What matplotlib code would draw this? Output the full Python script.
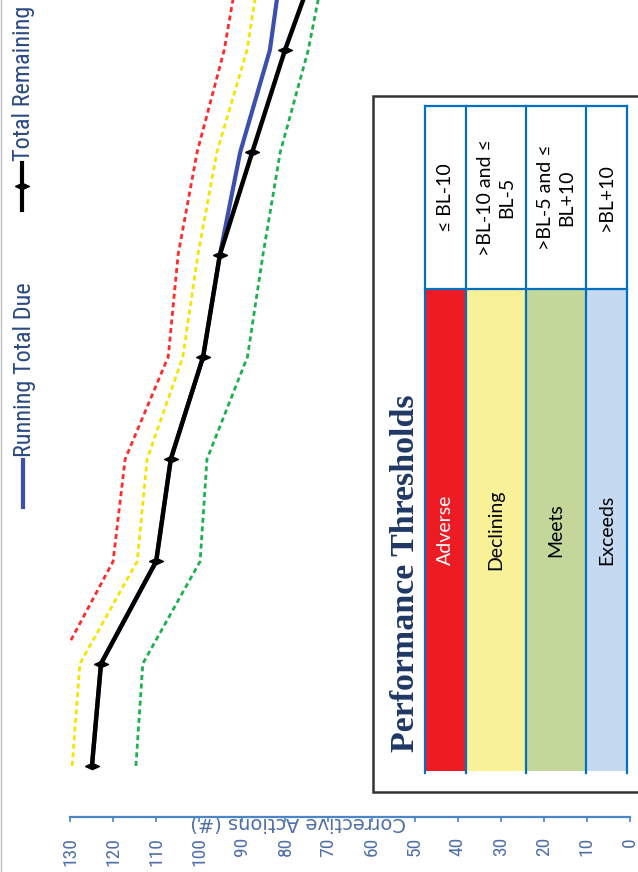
import numpy as np
import matplotlib
matplotlib.use('Agg')
import matplotlib.pyplot as plt
from matplotlib.patches import Rectangle
from matplotlib.lines import Line2D

# time steps (chart is turned on its side: time runs upward)
periods = np.arange(9)
total_remaining = [124.9, 122.8, 110.0, 106.6, 99.1, 95.2, 87.7, 80.1, 71.5]
running_total_due = [124.9, 122.8, 110.0, 106.6, 99.1, 95.2, 90.5, 83.6, 80.3]
adverse_line = [134.5, 132.7, 120.0, 117.2, 107.2, 104.9, 100.5, 94.2, 90.1]
declining_line = [129.5, 127.7, 114.4, 112.1, 103.8, 100.3, 95.9, 88.9, 85.2]
exceeds_line = [114.7, 113.1, 99.8, 98.2, 88.8, 85.2, 81.2, 74.7, 70.0]

value_ticks = list(range(0, 131, 10))

threshold_names = ['Adverse', 'Declining', 'Meets', 'Exceeds']
threshold_rules = ['≤ BL-10', '>BL-10 and ≤\nBL-5', '>BL-5 and ≤\nBL+10', '>BL+10']
threshold_colors = ['#ED1C24', '#F9F197', '#C4D79B', '#C5D9F1']
threshold_text = ['white', 'black', 'black', 'black']

axis_blue = '#4A86C8'
tick_col = '#4F6FA8'
legend_col = '#2B4A85'
narrow = ['Roboto Condensed', 'DejaVu Sans']
# flat diamond like the excel marker seen sideways
flat_diamond = [(-1, 0), (0, 0.45), (1, 0), (0, -0.45), (-1, 0)]
dots = (0, (1.8, 1.3))

W, H = 638, 872
fig = plt.figure(figsize=(W / 100, H / 100), dpi=100)

ax = fig.add_axes([70 / W, 1 - 817 / H, 560 / W, 817 / H])
ax.plot(exceeds_line, periods, color='#1DB050', lw=2.0, ls=dots, zorder=2)
ax.plot(declining_line, periods, color='#F5E400', lw=2.0, ls=dots, zorder=2)
ax.plot(adverse_line, periods, color='#FF2A2A', lw=2.0, ls=dots, zorder=2)
ax.plot(running_total_due, periods, color='#3B4FAF', lw=3, zorder=3)
ax.plot(total_remaining, periods, color='black', lw=3.2, marker=flat_diamond, ms=10, zorder=4)

ax.set_xlim(130, 0)
ax.set_ylim(-0.5, 7.49)
for s in ['top', 'left', 'right']:
    ax.spines[s].set_visible(False)
ax.spines['bottom'].set_color(axis_blue)
ax.spines['bottom'].set_linewidth(1.6)
ax.set_yticks([])
ax.set_xticks(value_ticks)
ax.tick_params(axis='x', direction='out', length=3.5, width=1.2, color=axis_blue,
               labelcolor=tick_col, labelsize=14, pad=11, labelrotation=90)
for lab in ax.get_xticklabels():
    lab.set_family(narrow)
    lab.set_stretch('condensed')
ax.set_xlabel('Corrective Actions (#)', rotation=180, color=tick_col, fontsize=14,
              ha='center', va='center')
ax.xaxis.set_label_coords((298 - 70) / 560, -6 / 817)
ax.patch.set_visible(False)

# overlay in pixel coordinates for legend and thresholds table
ov = fig.add_axes([0, 0, 1, 1], zorder=5)
ov.set_xlim(0, W)
ov.set_ylim(H, 0)
ov.axis('off')
ov.patch.set_visible(False)

ov.add_line(Line2D([1, 1], [0, H], color='#C0C0C0', lw=1))

# legend (rotated)
ov.add_line(Line2D([23, 23], [460, 507], color='#3B4FAF', lw=3))
ov.text(25, 457, 'Running Total Due', rotation=90, ha='center', va='bottom',
        fontsize=17.5, color=legend_col, family=narrow, stretch='condensed')
ov.add_line(Line2D([22, 22, 22], [163, 186.5, 210], color='black', lw=3,
                   marker=flat_diamond, ms=10, markevery=[1]))
ov.text(24, 161, 'Total Remaining', rotation=90, ha='center', va='bottom',
        fontsize=17.5, color=legend_col, family=narrow, stretch='condensed')

# thresholds box
ov.add_patch(Rectangle((373, 96), 320, 696, facecolor='white', edgecolor='#333333', lw=1.8))
ov.text(405, 573, 'Performance Thresholds', rotation=90, ha='center', va='center',
        fontsize=24.5, fontweight='bold', family='Liberation Serif', color='#1F3864')

edges = [425, 466, 526, 586, 627]
top, split, bottom = 106, 289, 771
grid_col = '#0070C0'
for i, name in enumerate(threshold_names):
    x0, x1 = edges[i], edges[i + 1]
    ov.add_patch(Rectangle((x0, split), x1 - x0, bottom - split, facecolor=threshold_colors[i],
                           edgecolor='none'))
    ov.text((x0 + x1) / 2, (top + split) / 2, threshold_rules[i], rotation=90, ha='center',
            va='center', fontsize=14, family='Lato', color='black', linespacing=1.25)
    ov.text((x0 + x1) / 2, (split + bottom) / 2, name, rotation=90, ha='center', va='center',
            fontsize=14, family='Lato', color=threshold_text[i])
for xe in edges:
    ov.add_line(Line2D([xe, xe], [top, bottom + 2], color=grid_col, lw=1.6))
for ye in [top, split]:
    ov.add_line(Line2D([edges[0], edges[-1]], [ye, ye], color=grid_col, lw=1.6))

fig.savefig('out.png', dpi=100)
